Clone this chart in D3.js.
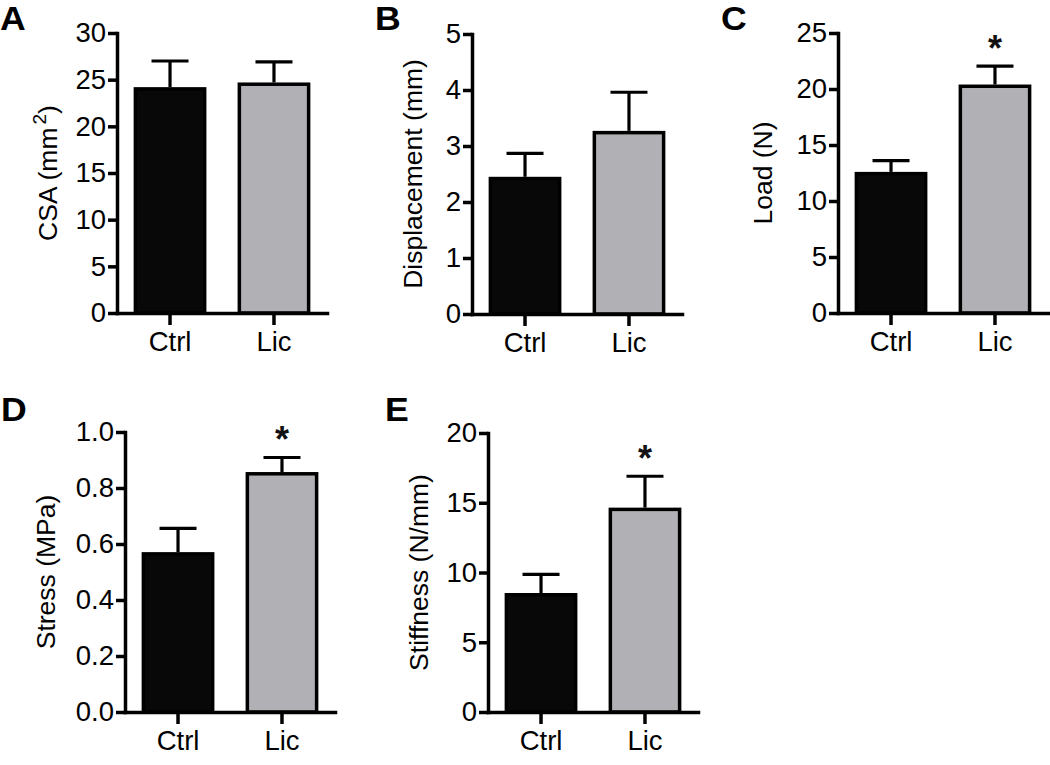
<!DOCTYPE html>
<html>
<head>
<meta charset="utf-8">
<script src="https://cdnjs.cloudflare.com/ajax/libs/d3/7.8.5/d3.min.js"></script>
<style>
  html, body { margin: 0; padding: 0; background: #fff; }
  svg { display: block; font-family: "Liberation Sans", Arial, Helvetica, sans-serif; }
</style>
</head>
<body>
<svg id="chart" width="1050" height="765"></svg>
<script>
// ---- data ----
const categories = ["Ctrl", "Lic"];
const panelLetters = ["A", "B", "C", "D", "E"];
const yTitles = ["CSA (mm", "Displacement (mm)", "Load (N)", "Stress (MPa)", "Stiffness (N/mm)"];
const yMaxes = [30, 5, 25, 1.0, 20];
const yTickSteps = [5, 1, 5, 0.2, 5];
const yTickFormats = ["d", "d", "d", ".1f", "d"];
const ctrlMeans = [24.2, 2.45, 12.6, 0.571, 8.53];
const ctrlErrTops = [27.0, 2.87, 13.6, 0.656, 9.87];
const licMeans = [24.7, 3.27, 20.4, 0.857, 14.65];
const licErrTops = [26.9, 3.96, 22.05, 0.909, 16.9];
const significant = [false, false, true, true, true];

// ---- layout (positions only) ----
const layout = [
  { ax: 117, top: 33, bottom: 313, titleOff: 60, lx: 0, ly: 30 },
  { ax: 472, top: 34, bottom: 314, titleOff: 50, lx: 375, ly: 30 },
  { ax: 838, top: 33, bottom: 313, titleOff: 66, lx: 721, ly: 30 },
  { ax: 125, top: 432, bottom: 712, titleOff: 70, lx: 1, ly: 421 },
  { ax: 488, top: 433, bottom: 712, titleOff: 60, lx: 385, ly: 421 }
];
const plotW = 210;
const fills = { Ctrl: "#080808", Lic: "#b1b0b5" };
const lw = 3.5;
const fontFam = "'Liberation Sans', Arial, Helvetica, sans-serif";

const svg = d3.select("#chart");

panelLetters.forEach((letter, i) => {
  const L = layout[i];
  const g = svg.append("g").attr("transform", `translate(${L.ax},${L.top})`);
  const h = L.bottom - L.top;

  const y = d3.scaleLinear().domain([0, yMaxes[i]]).range([h, 0]);
  const x = d3.scaleBand().domain(categories).range([0, plotW]).paddingInner(0.3).paddingOuter(0.16);

  const means = [ctrlMeans[i], licMeans[i]];
  const errs = [ctrlErrTops[i], licErrTops[i]];
  const rows = categories.map((c, k) => ({ c, mean: means[k], err: errs[k] }));

  // error bars (upper only)
  const capW = 37;
  rows.forEach(r => {
    const cx = x(r.c) + x.bandwidth() / 2;
    g.append("line").attr("x1", cx).attr("x2", cx)
      .attr("y1", y(r.mean)).attr("y2", y(r.err))
      .attr("stroke", "#000").attr("stroke-width", 3.2);
    g.append("line").attr("x1", cx - capW / 2).attr("x2", cx + capW / 2)
      .attr("y1", y(r.err)).attr("y2", y(r.err))
      .attr("stroke", "#000").attr("stroke-width", 3.2);
  });

  // bars
  g.selectAll("rect.bar").data(rows).enter().append("rect")
    .attr("class", "bar")
    .attr("x", d => x(d.c) + lw / 2)
    .attr("width", x.bandwidth() - lw)
    .attr("y", d => y(d.mean) + lw / 2)
    .attr("height", d => y(0) - y(d.mean) - lw / 2)
    .attr("fill", d => fills[d.c])
    .attr("stroke", "#000")
    .attr("stroke-width", lw);

  // significance star
  if (significant[i]) {
    const cx = x("Lic") + x.bandwidth() / 2;
    g.append("text").attr("x", cx).attr("y", y(licErrTops[i]) - 5)
      .attr("text-anchor", "middle").attr("font-size", 36).attr("font-weight", "bold")
      .attr("fill", "#111")
      .text("*");
  }

  // axes
  const ticks = d3.range(0, yMaxes[i] + yTickSteps[i] / 2, yTickSteps[i]);
  const yAxis = d3.axisLeft(y).tickValues(ticks).tickFormat(d3.format(yTickFormats[i]))
    .tickSize(9).tickSizeOuter(0).tickPadding(2);
  const ya = g.append("g").call(yAxis);
  const xAxis = d3.axisBottom(x).tickSize(12).tickSizeOuter(0).tickPadding(6);
  const xa = g.append("g").attr("transform", `translate(0,${h})`).call(xAxis);

  [ya, xa].forEach(a => {
    a.select(".domain").attr("stroke", "#000").attr("stroke-width", lw).attr("stroke-linecap", "square");
    a.selectAll(".tick line").attr("stroke", "#000").attr("stroke-width", lw);
    a.selectAll(".tick text").attr("fill", "#000").attr("font-size", 27.5)
      .attr("font-family", fontFam);
  });

  // y title
  const t = g.append("text")
    .attr("transform", `translate(${-L.titleOff},${h / 2}) rotate(-90)`)
    .attr("text-anchor", "middle").attr("font-size", 26.5).attr("fill", "#000");
  if (i === 0) {
    t.append("tspan").text(yTitles[i]);
    t.append("tspan").attr("dy", -11).attr("dx", 3).attr("font-size", 19).text("2");
    t.append("tspan").attr("dy", 11).text(")");
  } else {
    t.text(yTitles[i]);
  }

  // panel letter
  svg.append("text").attr("x", L.lx).attr("y", L.ly)
    .attr("font-size", 33).attr("font-weight", "bold").attr("fill", "#000")
    .attr("transform", `translate(${L.lx},0) scale(1.08,1) translate(${-L.lx},0)`)
    .text(letter);
});
</script>
</body>
</html>
